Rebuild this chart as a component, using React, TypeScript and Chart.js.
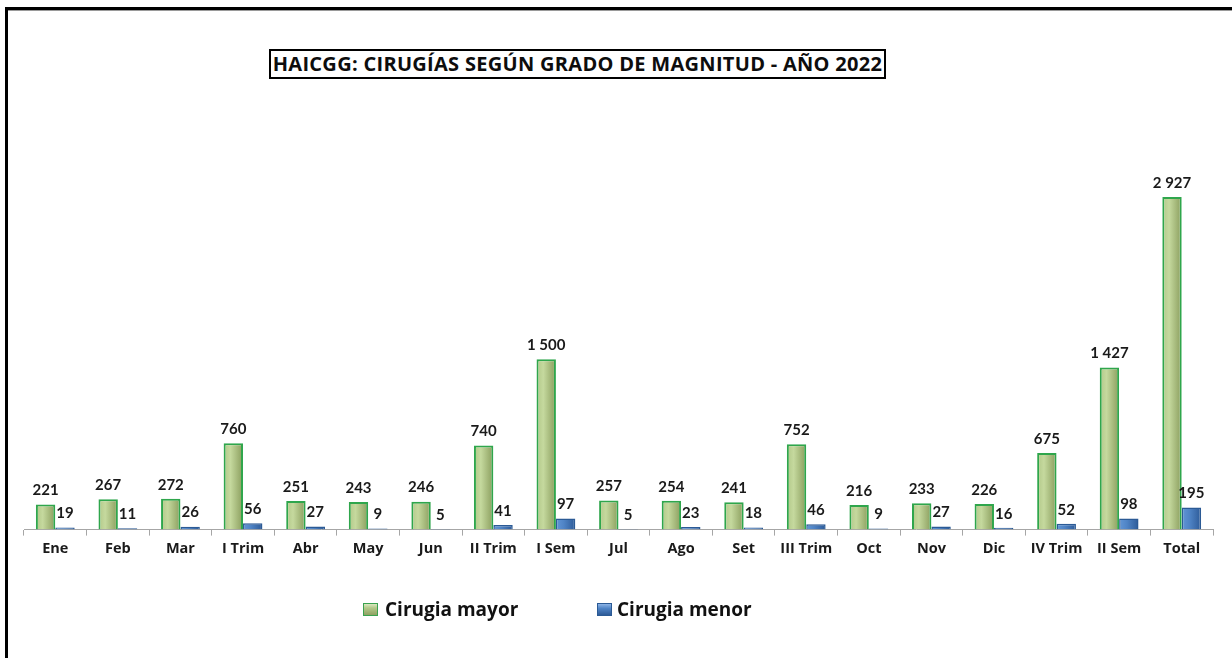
import React, { useEffect, useRef } from "react";
import { Chart, registerables } from "chart.js";

Chart.register(...registerables);

const categories = [
  "Ene", "Feb", "Mar", "I Trim", "Abr", "May", "Jun", "II Trim", "I Sem",
  "Jul", "Ago", "Set", "III Trim", "Oct", "Nov", "Dic", "IV Trim", "II Sem", "Total",
];
const cirugiaMayor = [221, 267, 272, 760, 251, 243, 246, 740, 1500, 257, 254, 241, 752, 216, 233, 226, 675, 1427, 2927];
const cirugiaMenor = [19, 11, 26, 56, 27, 9, 5, 41, 97, 5, 23, 18, 46, 9, 27, 16, 52, 98, 195];
const seriesNames = ["Cirugia mayor", "Cirugia menor"];
const titleText = "HAICGG: CIRUGÍAS SEGÚN GRADO DE MAGNITUD - AÑO 2022";

const FONT = "Lato, 'Open Sans', sans-serif";
const WIDE = "'Open Sans', Lato, sans-serif";
const CAT_PCT = 0.62;

const fmt = (v: number) => String(v).replace(/\B(?=(\d{3})+(?!\d))/g, " ");

const gradStops = [
  [[0, "#b2c889"], [0.35, "#c5d99e"], [1, "#8a9d5d"]],
  [[0, "#6296d6"], [0.4, "#4f84c6"], [1, "#2d5a97"]],
];
const solid = ["#b3c98a", "#4a7ebb"];

function barFill(c: any) {
  const chart = c.chart;
  const xs = chart.scales?.x;
  if (!xs || c.type !== "data" || !isFinite(xs.width)) return solid[c.datasetIndex];
  const center = xs.getPixelForValue(c.dataIndex);
  const catW = xs.width / categories.length;
  const bw = (catW * CAT_PCT) / 2;
  const x0 = c.datasetIndex === 0 ? center - bw : center;
  const g = chart.ctx.createLinearGradient(x0, 0, x0 + bw, 0);
  for (const [o, col] of gradStops[c.datasetIndex] as any) g.addColorStop(o, col);
  return g;
}

const valueLabels = {
  id: "valueLabels",
  afterDatasetsDraw(chart: any) {
    const ctx = chart.ctx;
    ctx.save();
    ctx.font = `bold 15px ${FONT}`;
    ctx.fillStyle = "#1a1a1a";
    ctx.textAlign = "center";
    ctx.textBaseline = "middle";
    chart.data.datasets.forEach((ds: any, di: number) => {
      const meta = chart.getDatasetMeta(di);
      meta.data.forEach((el: any, i: number) => {
        ctx.fillText(fmt(ds.data[i]), el.x, el.y - 14);
      });
    });
    ctx.restore();
  },
};

export default function App() {
  const ref = useRef<HTMLCanvasElement | null>(null);

  useEffect(() => {
    if (!ref.current) return;
    const chart = new Chart(ref.current, {
      type: "bar",
      data: {
        labels: categories,
        datasets: [
          {
            label: seriesNames[0],
            data: cirugiaMayor,
            backgroundColor: barFill as any,
            borderColor: "#2fa64c",
            borderWidth: 2,
            categoryPercentage: CAT_PCT,
            barPercentage: 1,
          },
          {
            label: seriesNames[1],
            data: cirugiaMenor,
            backgroundColor: barFill as any,
            borderColor: "#2b5a95",
            borderWidth: 1.5,
            categoryPercentage: CAT_PCT,
            barPercentage: 1,
          },
        ],
      },
      options: {
        animation: false,
        responsive: false,
        maintainAspectRatio: false,
        layout: { padding: { left: 24, right: 19, top: 132, bottom: 95 } },
        plugins: {
          legend: { display: false },
          title: { display: false },
          tooltip: { enabled: false },
        },
        scales: {
          x: {
            grid: {
              display: true,
              drawOnChartArea: false,
              drawTicks: true,
              tickLength: 6,
              color: "#a6a6a6",
              offset: true,
            },
            border: { display: true, color: "#a6a6a6", width: 1 },
            ticks: {
              padding: 5,
              color: "#1a1a1a",
              font: { family: WIDE, size: 14.5, weight: "bold" },
              maxRotation: 0,
              autoSkip: false,
            },
          },
          y: { display: false, min: 0, max: 3500 },
        },
      },
      plugins: [valueLabels],
    });
    return () => chart.destroy();
  }, []);

  const legendBox = (i: number) => ({
    position: "absolute" as const,
    top: 603,
    width: 15,
    height: 13,
    boxSizing: "border-box" as const,
    border: i === 0 ? "1px solid #3aa24f" : "1px solid #2b5a95",
    background:
      i === 0
        ? "linear-gradient(180deg, #dbe8c0 0%, #b3c98a 35%, #8fa162 100%)"
        : "linear-gradient(180deg, #8db4e6 0%, #4f84c6 40%, #2d5a97 100%)",
  });
  const legendText = {
    position: "absolute" as const,
    top: 596,
    height: 26,
    lineHeight: "26px",
    fontFamily: WIDE,
    fontWeight: 700,
    fontSize: 19,
    color: "#111",
    whiteSpace: "nowrap" as const,
  };

  return (
    <div
      style={{
        position: "fixed",
        left: 0,
        top: 0,
        width: 1232,
        height: 658,
        overflow: "hidden",
        background: "#fff",
      }}
    >
      <div
        style={{
          position: "absolute",
          left: 5,
          top: 7,
          width: 3000,
          height: 3000,
          borderLeft: "3px solid #000",
          borderTop: "3px solid #000",
          boxShadow: "inset 0 1px 0 #9a9a9a",
        }}
      />
      <canvas
        ref={ref}
        width={1232}
        height={658}
        style={{ position: "absolute", left: 0, top: 0, width: 1232, height: 658 }}
      />
      <div
        style={{
          position: "absolute",
          left: 269,
          top: 49,
          width: 617,
          height: 30,
          boxSizing: "border-box",
          border: "2px solid #000",
          background: "#fff",
          fontFamily: WIDE,
          fontWeight: 700,
          fontSize: 20,
          letterSpacing: 0.3,
          lineHeight: "26px",
          textAlign: "center",
          color: "#0d0d0d",
          whiteSpace: "nowrap",
        }}
      >
        {titleText}
      </div>
      <div style={{ ...legendBox(0), left: 363 }} />
      <div style={{ ...legendText, left: 385 }}>{seriesNames[0]}</div>
      <div style={{ ...legendBox(1), left: 597 }} />
      <div style={{ ...legendText, left: 617 }}>{seriesNames[1]}</div>
    </div>
  );
}
